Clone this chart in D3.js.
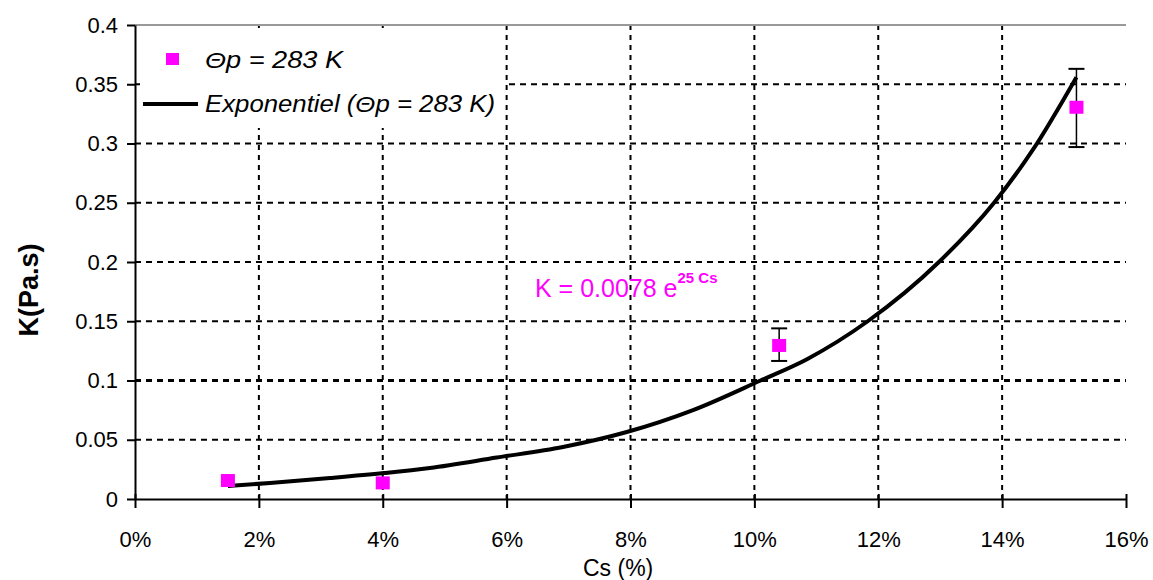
<!DOCTYPE html>
<html>
<head>
<meta charset="utf-8">
<script src="https://cdn.jsdelivr.net/npm/d3@7/dist/d3.min.js"></script>
<style>
  html, body { margin: 0; padding: 0; background: #fff; }
  svg { display: block; }
  text { font-family: "Liberation Sans", Arial, sans-serif; fill: #000; }
</style>
</head>
<body>
<svg id="chart" width="1153" height="580"></svg>
<script>
// ---- data ----
const pointCs   = [1.5, 4.0, 10.4, 15.2];          // Cs (%)
const pointK    = [0.016, 0.014, 0.130, 0.331];    // K (Pa.s)
const errLow    = [0.016, 0.014, 0.1165, 0.297];
const errHigh   = [0.016, 0.014, 0.144, 0.363];
const hasErr    = [false, false, true, true];

// exponential trendline, points
const fitCs = [1.5, 2.18, 3.15, 4.02, 4.76, 5.84, 6.91, 7.94, 9.01, 10.1, 10.85, 11.83, 12.98, 13.87, 14.5, 15.2];
const fitK  = [0.011, 0.0135, 0.0177, 0.0219, 0.0262, 0.035, 0.0439, 0.0565, 0.075, 0.1, 0.118, 0.15, 0.2, 0.25, 0.295, 0.356];

const xTicks = [0, 2, 4, 6, 8, 10, 12, 14, 16];
const xTickLabels = ["0%", "2%", "4%", "6%", "8%", "10%", "12%", "14%", "16%"];
const yTicks = [0, 0.05, 0.1, 0.15, 0.2, 0.25, 0.3, 0.35, 0.4];
const yTickLabels = ["0", "0.05", "0.1", "0.15", "0.2", "0.25", "0.3", "0.35", "0.4"];

const seriesLabel = "\u0398p = 283 K";
const fitLabel = "Exponentiel (\u0398p = 283 K)";
const eqMain = "K = 0.0078 e";
const eqSup = "25 Cs";
const xTitle = "Cs (%)";
const yTitle = "K(Pa.s)";

// ---- layout ----
const svg = d3.select("#chart");
const L = 135, R = 1126, T = 25, B = 499;
const x = d3.scaleLinear().domain([0, 16]).range([L, R]);
const y = d3.scaleLinear().domain([0, 0.4]).range([B, T]);

// gridlines
const grid = svg.append("g");
grid.selectAll("line.vg").data(xTicks.filter(d => d > 0 && d < 16)).enter()
  .append("line").attr("class", "vg")
  .attr("x1", d => x(d)).attr("x2", d => x(d))
  .attr("y1", T).attr("y2", B)
  .attr("stroke", "#000").attr("stroke-width", 2).attr("stroke-dasharray", "5,5");
grid.selectAll("line.hg").data(yTicks.filter(d => d > 0 && d < 0.4)).enter()
  .append("line").attr("class", "hg")
  .attr("x1", L).attr("x2", R)
  .attr("y1", d => y(d)).attr("y2", d => y(d))
  .attr("stroke", "#000").attr("stroke-width", d => Math.abs(d - 0.1) < 1e-9 ? 3 : 2)
  .attr("stroke-dasharray", "6,5");

// top border
svg.append("line").attr("x1", L).attr("x2", R).attr("y1", T).attr("y2", T)
  .attr("stroke", "#999").attr("stroke-width", 2);

// axes
const yAxis = d3.axisLeft(y).tickValues(yTicks).tickSize(8).tickSizeOuter(0)
  .tickFormat((d, i) => yTickLabels[i]);
const gy = svg.append("g").attr("transform", `translate(${L},0)`).call(yAxis);
gy.select(".domain").attr("stroke", "#000").attr("stroke-width", 2);
gy.selectAll(".tick line").attr("stroke", "#000").attr("stroke-width", 2);
gy.selectAll(".tick text").attr("x", -17).attr("font-size", 22)
  .attr("font-family", "Liberation Sans, Arial, sans-serif");

const xAxis = d3.axisBottom(x).tickValues(xTicks).tickSize(9).tickSizeOuter(0)
  .tickFormat((d, i) => xTickLabels[i]);
const gx = svg.append("g").attr("transform", `translate(0,${B})`).call(xAxis);
gx.select(".domain").attr("stroke", "#000").attr("stroke-width", 2);
gx.selectAll(".tick line").attr("stroke", "#000").attr("stroke-width", 2).attr("y1", -5);
gx.selectAll(".tick text").attr("y", 32).attr("font-size", 22)
  .attr("font-family", "Liberation Sans, Arial, sans-serif");

// axis titles
svg.append("text").attr("x", x(7.8)).attr("y", 576).attr("text-anchor", "middle")
  .attr("font-size", 23).text(xTitle);
svg.append("text").attr("transform", "translate(38,290) rotate(-90)")
  .attr("text-anchor", "middle").attr("font-size", 27).attr("font-weight", "bold")
  .text(yTitle);

// legend background and entries
svg.append("rect").attr("x", 140).attr("y", 28).attr("width", 365).attr("height", 100)
  .attr("fill", "#fff");
svg.append("rect").attr("x", 166).attr("y", 53).attr("width", 13).attr("height", 12)
  .attr("fill", "#ff00ff");
svg.append("text").attr("x", 205).attr("y", 68).attr("font-size", 23)
  .attr("font-style", "italic").attr("textLength", 138).attr("lengthAdjust", "spacingAndGlyphs")
  .text(seriesLabel);
svg.append("line").attr("x1", 143).attr("x2", 198).attr("y1", 104).attr("y2", 104)
  .attr("stroke", "#000").attr("stroke-width", 4);
svg.append("text").attr("x", 205).attr("y", 112).attr("font-size", 23)
  .attr("font-style", "italic").attr("textLength", 290).attr("lengthAdjust", "spacingAndGlyphs")
  .text(fitLabel);

// trendline
const fitData = fitCs.map((c, i) => [c, fitK[i]]);
svg.append("path").datum(fitData)
  .attr("d", d3.line().x(d => x(d[0])).y(d => y(d[1])).curve(d3.curveMonotoneX))
  .attr("fill", "none").attr("stroke", "#000").attr("stroke-width", 4)
  .attr("stroke-linejoin", "round");

// error bars
const pts = pointCs.map((c, i) => ({c, k: pointK[i], lo: errLow[i], hi: errHigh[i], e: hasErr[i]}));
const eb = svg.append("g").selectAll("g").data(pts.filter(d => d.e)).enter().append("g");
eb.append("line").attr("x1", d => x(d.c)).attr("x2", d => x(d.c))
  .attr("y1", d => y(d.lo)).attr("y2", d => y(d.hi))
  .attr("stroke", "#000").attr("stroke-width", 1.5);
eb.append("line").attr("x1", d => x(d.c) - 8).attr("x2", d => x(d.c) + 8)
  .attr("y1", d => y(d.hi)).attr("y2", d => y(d.hi))
  .attr("stroke", "#000").attr("stroke-width", 2);
eb.append("line").attr("x1", d => x(d.c) - 8).attr("x2", d => x(d.c) + 8)
  .attr("y1", d => y(d.lo)).attr("y2", d => y(d.lo))
  .attr("stroke", "#000").attr("stroke-width", 2);

// markers
svg.append("g").selectAll("rect").data(pts).enter().append("rect")
  .attr("x", d => x(d.c) - 7).attr("y", d => y(d.k) - 6)
  .attr("width", 14).attr("height", 13).attr("fill", "#ff00ff");

// equation
const eq = svg.append("text").attr("x", 535).attr("y", 297).attr("fill", "#ff00ff")
  .style("fill", "#ff00ff").attr("font-size", 25);
eq.append("tspan").text(eqMain);
eq.append("tspan").attr("dy", -14).attr("font-size", 15).attr("font-weight", "bold").text(eqSup);
</script>
</body>
</html>
